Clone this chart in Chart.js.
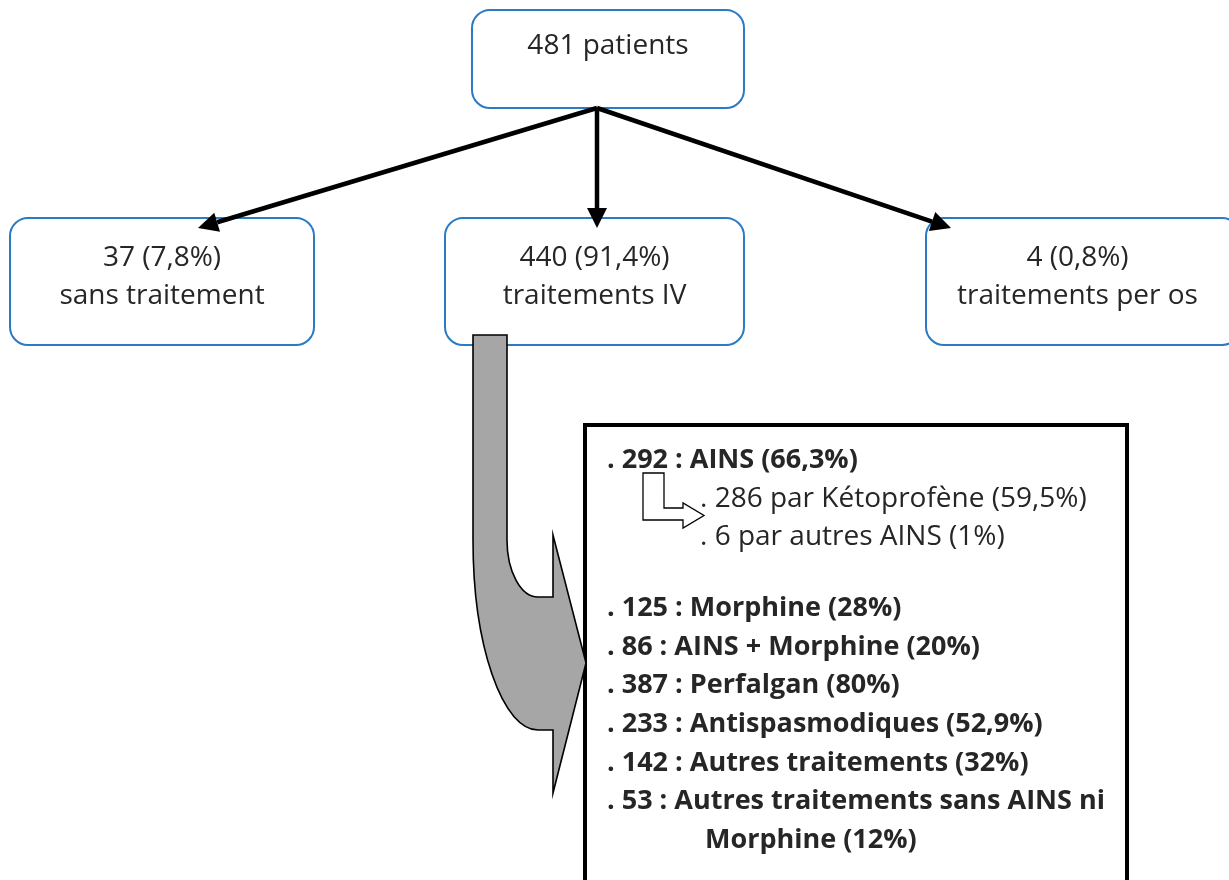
<!DOCTYPE html>
<html lang="fr">
<head>
    <meta charset="UTF-8">
    <title>Répartition des traitements</title>
    <script src="https://cdn.jsdelivr.net/npm/chart.js"></script>
    <style>
        body { margin: 0; background: #ffffff; overflow: hidden; }
        #wrap { width: 1229px; height: 880px; }
    </style>
</head>
<body>
    <div id="wrap"><canvas id="flowChart" width="1229" height="880"></canvas></div>

    <script>
        // Data
        const totalPatients = 481;
        const groupNames = ['sans traitement', 'traitements IV', 'traitements per os'];
        const groupCounts = [37, 440, 4];
        const groupPct = ['7,8', '91,4', '0,8'];

        const ivNames = ['AINS', 'Morphine', 'AINS + Morphine', 'Perfalgan', 'Antispasmodiques',
                         'Autres traitements', 'Autres traitements sans AINS ni|Morphine'];
        const ivCounts = [292, 125, 86, 387, 233, 142, 53];
        const ivPct = ['66,3', '28', '20', '80', '52,9', '32', '12'];

        const ainsSubNames = ['par Kétoprofène', 'par autres AINS'];
        const ainsSubCounts = [286, 6];
        const ainsSubPct = ['59,5', '1'];

        // Layout (diagram units, mapped through the x / y scales)
        const layout = {
            root: { x0: 472, y0: 10, x1: 744, y1: 108 },
            groups: [
                { x0: 10, y0: 218, x1: 314, y1: 345 },
                { x0: 445, y0: 218, x1: 744, y1: 345 },
                { x0: 926, y0: 218, x1: 1240, y1: 345 }
            ],
            arrowFrom: { x: 597, y: 108 },
            arrowTo: [{ x: 198, y: 228 }, { x: 597, y: 228 }, { x: 951, y: 228 }],
            listBox: { x0: 585, y0: 425, x1: 1127, y1: 900 },
            listX: 607, subX: 700, firstY: 460, lineStep: 38.6
        };

        const font = '"Open Sans", Lato, sans-serif';
        const textColor = '#262626';
        const blue = '#2a7bc4';

        function roundBox(ctx, x0, y0, x1, y1, r) {
            ctx.beginPath();
            ctx.moveTo(x0 + r, y0);
            ctx.lineTo(x1 - r, y0);
            ctx.arcTo(x1, y0, x1, y0 + r, r);
            ctx.lineTo(x1, y1 - r);
            ctx.arcTo(x1, y1, x1 - r, y1, r);
            ctx.lineTo(x0 + r, y1);
            ctx.arcTo(x0, y1, x0, y1 - r, r);
            ctx.lineTo(x0, y0 + r);
            ctx.arcTo(x0, y0, x0 + r, y0, r);
            ctx.closePath();
        }

        function arrow(ctx, a, b) {
            const ang = Math.atan2(b.y - a.y, b.x - a.x);
            const len = 20, half = 10;
            const bx = b.x - len * Math.cos(ang), by = b.y - len * Math.sin(ang);
            ctx.beginPath();
            ctx.moveTo(a.x, a.y);
            ctx.lineTo(bx, by);
            ctx.stroke();
            ctx.beginPath();
            ctx.moveTo(b.x, b.y);
            ctx.lineTo(bx + half * Math.sin(ang), by - half * Math.cos(ang));
            ctx.lineTo(bx - half * Math.sin(ang), by + half * Math.cos(ang));
            ctx.closePath();
            ctx.fill();
        }

        const flowPlugin = {
            id: 'flow',
            afterDraw(chart) {
                const ctx = chart.ctx;
                const sx = chart.scales.x, sy = chart.scales.y;
                const X = v => sx.getPixelForValue(v);
                const Y = v => sy.getPixelForValue(v);
                const P = p => ({ x: X(p.x), y: Y(p.y) });
                ctx.save();

                // boxes
                const boxes = [layout.root].concat(layout.groups);
                const labels = [[totalPatients + ' patients']].concat(
                    groupNames.map((n, i) => [groupCounts[i] + ' (' + groupPct[i] + '%)', n]));
                boxes.forEach((b, i) => {
                    roundBox(ctx, X(b.x0), Y(b.y0), X(b.x1), Y(b.y1), 18);
                    ctx.fillStyle = '#fff';
                    ctx.fill();
                    ctx.strokeStyle = blue;
                    ctx.lineWidth = 2;
                    ctx.stroke();
                    ctx.fillStyle = textColor;
                    ctx.font = '400 28px ' + font;
                    ctx.textAlign = 'center';
                    ctx.textBaseline = 'middle';
                    const cx = (X(b.x0) + X(Math.min(b.x1, 1229))) / 2;
                    const ty = i === 0 ? [Y(46)] : [Y(258), Y(296)];
                    labels[i].forEach((s, k) => ctx.fillText(s, cx, ty[k]));
                });

                // arrows from root
                ctx.strokeStyle = '#000';
                ctx.fillStyle = '#000';
                ctx.lineWidth = 4.5;
                ctx.lineCap = 'butt';
                layout.arrowTo.forEach(t => arrow(ctx, P(layout.arrowFrom), P(t)));

                // big list box
                const lb = layout.listBox;
                ctx.strokeStyle = '#000';
                ctx.lineWidth = 4;
                ctx.strokeRect(X(lb.x0), Y(lb.y0), X(lb.x1) - X(lb.x0), Y(lb.y1) - Y(lb.y0));

                // curved gray arrow
                ctx.beginPath();
                ctx.moveTo(X(473), Y(335));
                ctx.lineTo(X(507), Y(335));
                ctx.lineTo(X(507), Y(540));
                ctx.ellipse(X(538), Y(540), X(538) - X(507), Y(597) - Y(540), 0, Math.PI, Math.PI / 2, true);
                ctx.lineTo(X(553), Y(597));
                ctx.lineTo(X(553), Y(535));
                ctx.lineTo(X(586), Y(663));
                ctx.lineTo(X(553), Y(793));
                ctx.lineTo(X(553), Y(730));
                ctx.lineTo(X(538), Y(730));
                ctx.ellipse(X(538), Y(540), X(538) - X(473), Y(730) - Y(540), 0, Math.PI / 2, Math.PI, false);
                ctx.closePath();
                ctx.fillStyle = '#a6a6a6';
                ctx.fill();
                ctx.lineWidth = 1.6;
                ctx.strokeStyle = '#000';
                ctx.stroke();

                // list text
                ctx.textAlign = 'left';
                ctx.textBaseline = 'middle';
                ctx.fillStyle = textColor;
                let row = 0;
                const rowY = r => Y(layout.firstY + r * layout.lineStep);
                ivNames.forEach((n, i) => {
                    ctx.font = '700 27px ' + font;
                    const parts = n.split('|');
                    ctx.fillText('. ' + ivCounts[i] + ' : ' + parts[0] + (parts.length > 1 ? '' : ' (' + ivPct[i] + '%)'),
                        X(layout.listX), rowY(row));
                    if (parts.length > 1) {
                        row++;
                        ctx.fillText(parts[1] + ' (' + ivPct[i] + '%)', X(layout.subX + 5), rowY(row));
                    }
                    row++;
                    if (i === 0) {
                        ctx.font = '400 28px ' + font;
                        ainsSubNames.forEach((s, k) => {
                            ctx.fillText('. ' + ainsSubCounts[k] + ' ' + s + ' (' + ainsSubPct[k] + '%)',
                                X(layout.subX), rowY(row));
                            row++;
                        });
                        row += 0.85;
                    }
                });

                // small white L-arrow
                ctx.beginPath();
                ctx.moveTo(X(643), Y(473));
                ctx.lineTo(X(664), Y(473));
                ctx.lineTo(X(664), Y(508));
                ctx.lineTo(X(683), Y(508));
                ctx.lineTo(X(683), Y(503));
                ctx.lineTo(X(704), Y(515.5));
                ctx.lineTo(X(683), Y(528));
                ctx.lineTo(X(683), Y(520));
                ctx.lineTo(X(643), Y(520));
                ctx.closePath();
                ctx.fillStyle = '#fff';
                ctx.fill();
                ctx.lineWidth = 1.3;
                ctx.strokeStyle = '#000';
                ctx.stroke();

                ctx.restore();
            }
        };

        new Chart(document.getElementById('flowChart'), {
            type: 'scatter',
            data: { datasets: [{ data: [], pointRadius: 0 }] },
            options: {
                responsive: false,
                animation: false,
                layout: { padding: 0 },
                plugins: { legend: { display: false }, tooltip: { enabled: false } },
                scales: {
                    x: { type: 'linear', min: 0, max: 1229, display: false },
                    y: { type: 'linear', min: 0, max: 880, reverse: true, display: false }
                }
            },
            plugins: [flowPlugin]
        });
    </script>
</body>
</html>
